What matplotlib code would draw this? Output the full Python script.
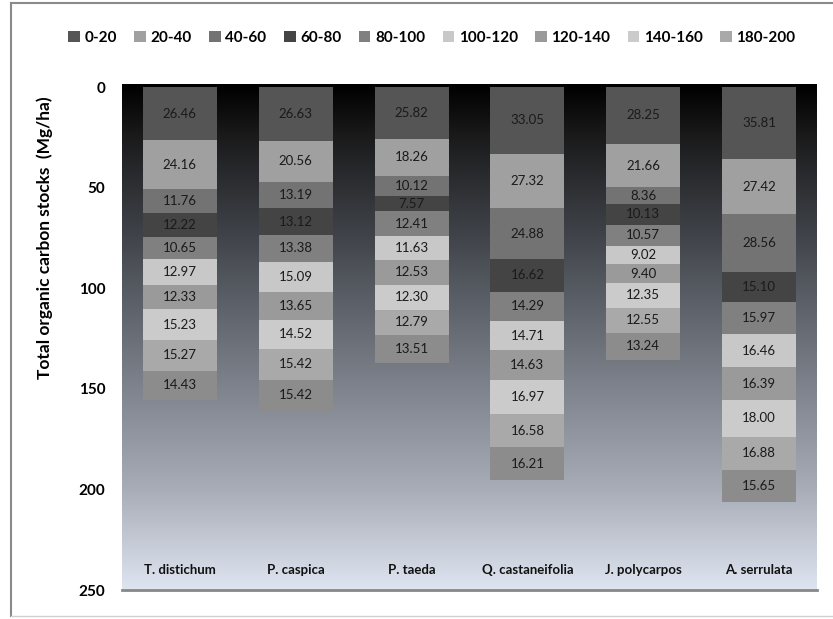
import numpy as np
import matplotlib
matplotlib.use('Agg')
from matplotlib import pyplot as plt
from matplotlib.colors import LinearSegmentedColormap
from matplotlib.lines import Line2D

plt.rcParams['font.family'] = ['Lato', 'DejaVu Sans']

species = ['T. distichum', 'P. caspica', 'P. taeda', 'Q. castaneifolia', 'J. polycarpos', 'A. serrulata']
depths = ['0-20', '20-40', '40-60', '60-80', '80-100', '100-120', '120-140', '140-160', '180-200', None]

# carbon stock per depth layer (top to bottom), one list per species
t_distichum = [26.46, 24.16, 11.76, 12.22, 10.65, 12.97, 12.33, 15.23, 15.27, 14.43]
p_caspica = [26.63, 20.56, 13.19, 13.12, 13.38, 15.09, 13.65, 14.52, 15.42, 15.42]
p_taeda = [25.82, 18.26, 10.12, 7.57, 12.41, 11.63, 12.53, 12.30, 12.79, 13.51]
q_castaneifolia = [33.05, 27.32, 24.88, 16.62, 14.29, 14.71, 14.63, 16.97, 16.58, 16.21]
j_polycarpos = [28.25, 21.66, 8.36, 10.13, 10.57, 9.02, 9.40, 12.35, 12.55, 13.24]
a_serrulata = [35.81, 27.42, 28.56, 15.10, 15.97, 16.46, 16.39, 18.00, 16.88, 15.65]

layer_colors = ['#555555', '#a0a0a0', '#737373', '#444444', '#808080',
                '#c8c8c8', '#9a9a9a', '#cbcbcb', '#a9a9a9', '#8c8c8c']

data = np.array([t_distichum, p_caspica, p_taeda, q_castaneifolia, j_polycarpos, a_serrulata])

fig = plt.figure(figsize=(8.33, 6.19), dpi=100)
ax = fig.add_axes([122 / 833, 29 / 619, 695 / 833, 506 / 619])

# background gradient of the plot area
grad = LinearSegmentedColormap.from_list('bg', [
    (0.0, '#000000'), (0.1, '#1a1a1b'), (0.3, '#40444a'),
    (0.5, '#6a6e77'), (0.8, '#a7acb7'), (1.0, '#dfe5f0')])
ax.imshow(np.linspace(0, 1, 256).reshape(-1, 1), cmap=grad, aspect='auto',
          extent=[0, 1, 0, 1], transform=ax.transAxes, zorder=0)

x = np.arange(len(species))
bottom = np.zeros(len(species))
for i in range(data.shape[1]):
    vals = data[:, i]
    label = depths[i] if depths[i] else '_nolegend_'
    ax.bar(x, vals, bottom=bottom, width=0.64, color=layer_colors[i],
           linewidth=0, label=label, zorder=2)
    for xi, b, v in zip(x, bottom, vals):
        ax.text(xi, b + v / 2, f'{v:.2f}', ha='center', va='center',
                fontsize=9.5, color='#1a1a1a', zorder=3)
    bottom += vals

ax.set_xlim(-0.5, len(species) - 0.5)
ax.set_ylim(250, -1.5)
ax.set_yticks([0, 50, 100, 150, 200, 250])
ax.tick_params(axis='y', length=0, pad=12, labelsize=11)
for lbl in ax.get_yticklabels():
    lbl.set_fontweight('bold')
ax.set_xticks([])
for s in ['left', 'right', 'top']:
    ax.spines[s].set_visible(False)
ax.spines['bottom'].set_color('#888888')
ax.spines['bottom'].set_linewidth(2)

# species names sit inside the plot near the bottom
for xi, name in zip(x, species):
    ax.text(xi, 240, name, ha='center', va='center', fontsize=9.5,
            fontweight='bold', color='#111111', zorder=3)

fig.text(45 / 833, 1 - 238 / 619, 'Total organic carbon stocks  (Mg/ha)',
         rotation=90, ha='center', va='center', fontsize=12.5, fontweight='bold')

leg = fig.legend(loc='center', bbox_to_anchor=(432 / 833, 1 - 38 / 619), ncol=9,
                 frameon=False, handlelength=0.75, handleheight=0.75,
                 handletextpad=0.3, columnspacing=1.15, fontsize=11)
for t in leg.get_texts():
    t.set_fontweight('bold')

# outer frame
fig.add_artist(Line2D([11 / 833, 11 / 833], [3 / 619, 1 - 3 / 619], color='#8a8a8a', lw=1.5))
fig.add_artist(Line2D([11 / 833, 1], [1 - 3 / 619, 1 - 3 / 619], color='#8a8a8a', lw=1.5))
fig.add_artist(Line2D([11 / 833, 1], [3 / 619, 3 / 619], color='#d0d0d0', lw=1))

fig.savefig('out.png', dpi=100)
